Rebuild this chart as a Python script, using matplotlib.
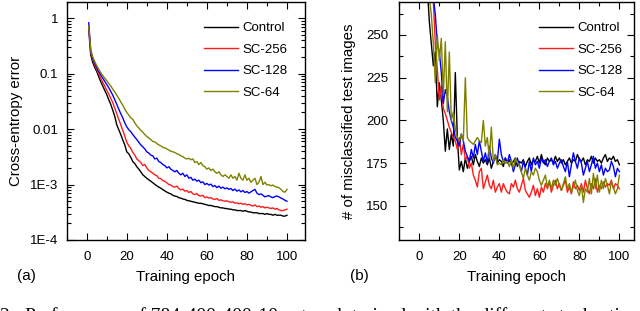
import numpy as np
import matplotlib
matplotlib.use("Agg")
import matplotlib.pyplot as plt
from matplotlib.ticker import MultipleLocator, FixedLocator, FixedFormatter, LogLocator, NullFormatter

plt.rcParams['font.family'] = ['Liberation Sans', 'DejaVu Sans']

epochs = np.arange(1, 101)
series_names = ['Control', 'SC-256', 'SC-128', 'SC-64']
series_colors = ['black', '#ff1a1a', '#0000ff', '#808000']

# (a) cross-entropy error per epoch
ce_control = [
    0.62, 0.22, 0.16, 0.13, 0.11, 0.088, 0.072, 0.060, 0.050, 0.042,
    0.034, 0.028, 0.022, 0.017, 0.012, 0.0098, 0.0080, 0.0064, 0.0052, 0.0039,
    0.0036, 0.0031, 0.0026, 0.0024, 0.0021, 0.0019, 0.0017, 0.0015, 0.0014, 0.0013,
    0.00122, 0.00115, 0.00108, 0.00101, 0.00095, 0.00090, 0.00086, 0.00081, 0.00077, 0.00073,
    0.00070, 0.00068, 0.00064, 0.00062, 0.00061, 0.00058, 0.00057, 0.00055, 0.00054, 0.00052,
    0.00051, 0.00050, 0.00049, 0.00048, 0.00047, 0.00046, 0.00046, 0.00045, 0.00044, 0.00043,
    0.00042, 0.00042, 0.00041, 0.00040, 0.00040, 0.00039, 0.00038, 0.00038, 0.00037, 0.00037,
    0.00036, 0.00036, 0.00035, 0.00035, 0.00034, 0.00034, 0.00034, 0.00033, 0.00034, 0.00033,
    0.00032, 0.00032, 0.00031, 0.00031, 0.00031, 0.00030, 0.00030, 0.00030, 0.00029, 0.00030,
    0.00029, 0.00029, 0.00028, 0.00029, 0.00028, 0.00028, 0.00028, 0.00027, 0.00027, 0.00028]
ce_sc256 = [
    0.70, 0.24, 0.18, 0.145, 0.12, 0.10, 0.083, 0.070, 0.060, 0.050,
    0.043, 0.036, 0.030, 0.024, 0.019, 0.015, 0.012, 0.0095, 0.0075, 0.0058,
    0.0050, 0.0045, 0.0038, 0.0034, 0.0029, 0.0027, 0.0025, 0.0022, 0.0023, 0.0020,
    0.0018, 0.0017, 0.0016, 0.0015, 0.00145, 0.0013, 0.00128, 0.00118, 0.00115, 0.00108,
    0.00100, 0.00098, 0.00092, 0.00090, 0.00094, 0.00085, 0.00080, 0.00083, 0.00076, 0.00078,
    0.00072, 0.00075, 0.00068, 0.00066, 0.00069, 0.00063, 0.00062, 0.00064, 0.00058, 0.00060,
    0.00057, 0.00058, 0.00055, 0.00054, 0.00056, 0.00052, 0.00053, 0.00051, 0.00050, 0.00051,
    0.00049, 0.00048, 0.00049, 0.00046, 0.00047, 0.00045, 0.00046, 0.00044, 0.00045, 0.00043,
    0.00044, 0.00042, 0.00041, 0.00043, 0.00040, 0.00041, 0.00039, 0.00040, 0.00038, 0.00039,
    0.00038, 0.00037, 0.00038, 0.00036, 0.00037, 0.00035, 0.00034, 0.00034, 0.00035, 0.00036]
ce_sc128 = [
    0.83, 0.26, 0.19, 0.155, 0.13, 0.11, 0.095, 0.083, 0.073, 0.064,
    0.056, 0.048, 0.041, 0.034, 0.028, 0.023, 0.019, 0.016, 0.013, 0.011,
    0.0098, 0.0090, 0.0080, 0.0072, 0.0065, 0.0058, 0.0052, 0.0048, 0.0044, 0.0039,
    0.0037, 0.0034, 0.0033, 0.0029, 0.0030, 0.0026, 0.0025, 0.0023, 0.0022, 0.0020,
    0.0021, 0.0019, 0.0018, 0.0017, 0.0018, 0.0016, 0.0015, 0.0016, 0.0014, 0.0015,
    0.0013, 0.00135, 0.0012, 0.00125, 0.00115, 0.00120, 0.00108, 0.00112, 0.00100, 0.00105,
    0.00098, 0.00102, 0.00092, 0.00096, 0.00088, 0.00094, 0.00086, 0.00090, 0.00084, 0.00087,
    0.00082, 0.00085, 0.00078, 0.00083, 0.00076, 0.00080, 0.00074, 0.00078, 0.00072, 0.00075,
    0.00070, 0.00074, 0.00078, 0.00082, 0.00070, 0.00066, 0.00068, 0.00064, 0.00060, 0.00062,
    0.00063, 0.00060, 0.00058, 0.00061, 0.00062, 0.00060, 0.00057, 0.00055, 0.00052, 0.00050]
ce_sc64 = [
    0.72, 0.27, 0.20, 0.165, 0.14, 0.12, 0.105, 0.093, 0.083, 0.075,
    0.067, 0.060, 0.053, 0.047, 0.041, 0.036, 0.031, 0.027, 0.023, 0.020,
    0.018, 0.016, 0.015, 0.013, 0.0115, 0.0105, 0.0095, 0.0088, 0.0080, 0.0074,
    0.0069, 0.0065, 0.0060, 0.0059, 0.0055, 0.0052, 0.0050, 0.0047, 0.0046, 0.0044,
    0.0042, 0.0040, 0.0039, 0.0038, 0.0036, 0.0035, 0.0033, 0.0032, 0.0030, 0.0029,
    0.0030, 0.0028, 0.0029, 0.0025, 0.0026, 0.0023, 0.0025, 0.0022, 0.0021, 0.0019,
    0.0020, 0.0018, 0.0019, 0.0017, 0.0016, 0.0017, 0.0015, 0.0014, 0.0015, 0.0014,
    0.0013, 0.0015, 0.0013, 0.0014, 0.0012, 0.0016, 0.0013, 0.0012, 0.0015, 0.0012,
    0.0013, 0.0011, 0.0012, 0.0013, 0.0010, 0.0011, 0.0014, 0.0010, 0.0011, 0.00098,
    0.0010, 0.00095, 0.00098, 0.00092, 0.00090, 0.00088, 0.00082, 0.00075, 0.00073, 0.00082]

# (b) number of misclassified test images per epoch
mis_control = [
    420, 330, 295, 278, 258, 245, 232, 240, 208, 222,
    212, 200, 182, 195, 183, 192, 185, 228, 190, 171,
    176, 170, 178, 172, 176, 179, 174, 180, 176, 173,
    178, 175, 177, 174, 178, 172, 176, 179, 175, 177,
    176, 173, 178, 175, 177, 174, 176, 178, 173, 176,
    175, 177, 173, 176, 178, 174, 177, 176, 179, 175,
    180, 176, 174, 178, 176, 177, 175, 179, 176, 178,
    175, 177, 174, 176, 178, 175, 177, 176, 180, 177,
    176, 178, 174, 177, 176, 179, 175, 178, 176, 177,
    175, 178, 180, 176, 178, 177, 179, 176, 177, 174]
mis_sc256 = [
    450, 360, 320, 300, 290, 285, 270, 245, 230, 212,
    220, 207, 204, 200, 196, 193, 190, 188, 183, 190,
    180, 186, 177, 179, 172, 175, 168, 165, 161, 170,
    172, 160, 164, 168, 162, 160, 165, 158, 161, 163,
    158, 163, 160, 158, 157, 163, 161, 165, 160, 158,
    162, 166, 159, 157, 155, 158, 162, 156, 160, 155,
    161, 158, 163, 160, 164, 158, 162, 165, 160, 163,
    159, 162, 165, 158, 161, 157, 164, 160, 162, 159,
    163, 158, 165, 160, 157, 163, 160, 166, 158, 162,
    160, 164, 161, 163, 162, 165, 160, 163, 162, 160]
mis_sc128 = [
    480, 380, 330, 300, 285, 278, 272, 262, 245, 240,
    228, 210, 218, 214, 205, 200, 196, 190, 188, 185,
    192, 188, 182, 179, 176, 183, 178, 186, 180, 188,
    182, 176, 181, 175, 185, 178, 175, 180, 176, 189,
    180, 176, 178, 175, 180, 176, 170, 174, 178, 174,
    170, 176, 172, 168, 176, 170, 178, 174, 176, 172,
    178, 175, 177, 173, 176, 178, 174, 176, 172, 175,
    177, 173, 170, 176, 167, 174, 181, 176, 172, 178,
    175, 168, 172, 176, 170, 174, 179, 172, 175, 170,
    174, 168, 172, 170, 171, 176, 173, 167, 172, 170]
mis_sc64 = [
    460, 370, 320, 290, 272, 262, 245, 222, 250, 235,
    248, 215, 246, 205, 240, 200, 205, 195, 190, 188,
    192, 188, 225, 190, 188, 187, 186, 188, 190, 188,
    187, 200, 185, 190, 178, 196, 176, 180, 174, 175,
    174, 177, 175, 176, 173, 177, 172, 178, 175, 174,
    170, 166, 172, 168, 165, 170, 168, 172, 170, 165,
    162, 165, 168, 161, 165, 160, 165, 162, 166, 162,
    159, 163, 167, 160, 163, 158, 161, 165, 159, 156,
    162, 152, 160, 158, 166, 157, 169, 160, 168, 158,
    165, 160, 166, 162, 157, 164, 161, 157, 160, 168]

ce_series = [ce_control, ce_sc256, ce_sc128, ce_sc64]
mis_series = [mis_control, mis_sc256, mis_sc128, mis_sc64]

W, H = 640, 311
fig = plt.figure(figsize=(W / 100, H / 100), dpi=100)

def px_axes(x0, y0, x1, y1):
    return fig.add_axes([x0 / W, 1 - y1 / H, (x1 - x0) / W, (y1 - y0) / H])

def style_ticks(ax):
    ax.tick_params(which='both', direction='in', top=True, right=True, labelsize=9.5, width=0.8)
    ax.tick_params(which='major', length=5)
    ax.tick_params(which='minor', length=3)
    for s in ax.spines.values():
        s.set_linewidth(1.0)

# ---- panel (a)
ax1 = px_axes(66.7, 2, 305, 240)
for vals, name, c in zip(ce_series, series_names, series_colors):
    ax1.plot(epochs, vals, color=c, lw=1.0, label=name)
ax1.set_yscale('log')
ax1.set_ylim(1e-4, 1.97)
ax1.set_xlim(-10, 109)
ax1.xaxis.set_major_locator(MultipleLocator(20))
ax1.xaxis.set_minor_locator(MultipleLocator(10))
ax1.yaxis.set_major_locator(FixedLocator([1e-4, 1e-3, 1e-2, 1e-1, 1]))
ax1.yaxis.set_major_formatter(FixedFormatter(['1E-4', '1E-3', '0.01', '0.1', '1']))
ax1.yaxis.set_minor_locator(LogLocator(base=10, subs=np.arange(2, 10), numticks=20))
ax1.yaxis.set_minor_formatter(NullFormatter())
style_ticks(ax1)
ax1.tick_params(axis='x', pad=8)
ax1.tick_params(axis='y', pad=6)
ax1.set_xlabel('Training epoch', fontsize=10.8)
ax1.set_ylabel('Cross-entropy error', fontsize=10.8)
ax1.xaxis.set_label_coords(0.5, -0.125)
ax1.yaxis.set_label_coords(-0.184, 0.5)
ax1.legend(loc='upper right', frameon=False, fontsize=9.5, handlelength=2.6,
           handletextpad=0.3, labelspacing=0.7, bbox_to_anchor=(0.975, 0.965))

# ---- panel (b)
ax2 = px_axes(399.3, 2, 634, 240)
for vals, name, c in zip(mis_series, series_names, series_colors):
    ax2.plot(epochs, vals, color=c, lw=1.0, label=name)
ax2.set_ylim(130, 269.3)
ax2.set_xlim(-10, 107.3)
ax2.xaxis.set_major_locator(MultipleLocator(20))
ax2.xaxis.set_minor_locator(MultipleLocator(10))
ax2.yaxis.set_major_locator(FixedLocator([150, 175, 200, 225, 250]))
ax2.yaxis.set_minor_locator(FixedLocator([137.5, 162.5, 187.5, 212.5, 237.5, 262.5]))
style_ticks(ax2)
ax2.tick_params(axis='x', pad=8)
ax2.tick_params(axis='y', pad=8)
ax2.set_xlabel('Training epoch', fontsize=10.8)
ax2.set_ylabel('# of misclassified test images', fontsize=10.8)
ax2.xaxis.set_label_coords(0.5, -0.125)
ax2.yaxis.set_label_coords(-0.184, 0.5)
ax2.legend(loc='upper right', frameon=False, fontsize=9.5, handlelength=2.6,
           handletextpad=0.3, labelspacing=0.7, bbox_to_anchor=(1.0, 0.965))

fig.text(26 / W, 1 - 276 / H, '(a)', fontsize=11, ha='center', va='center')
fig.text(359 / W, 1 - 276 / H, '(b)', fontsize=11, ha='center', va='center')

# caption of the source figure; only the tops of its letters show at the bottom edge
fig.text(0.0, 1 - 307.5 / H,
         '2:  Performance of 784-400-400-10 network trained with the different stochastic computing conditions.',
         fontsize=14, family=['Liberation Serif', 'DejaVu Serif'], ha='left', va='top')

fig.savefig('out.png', dpi=100)
